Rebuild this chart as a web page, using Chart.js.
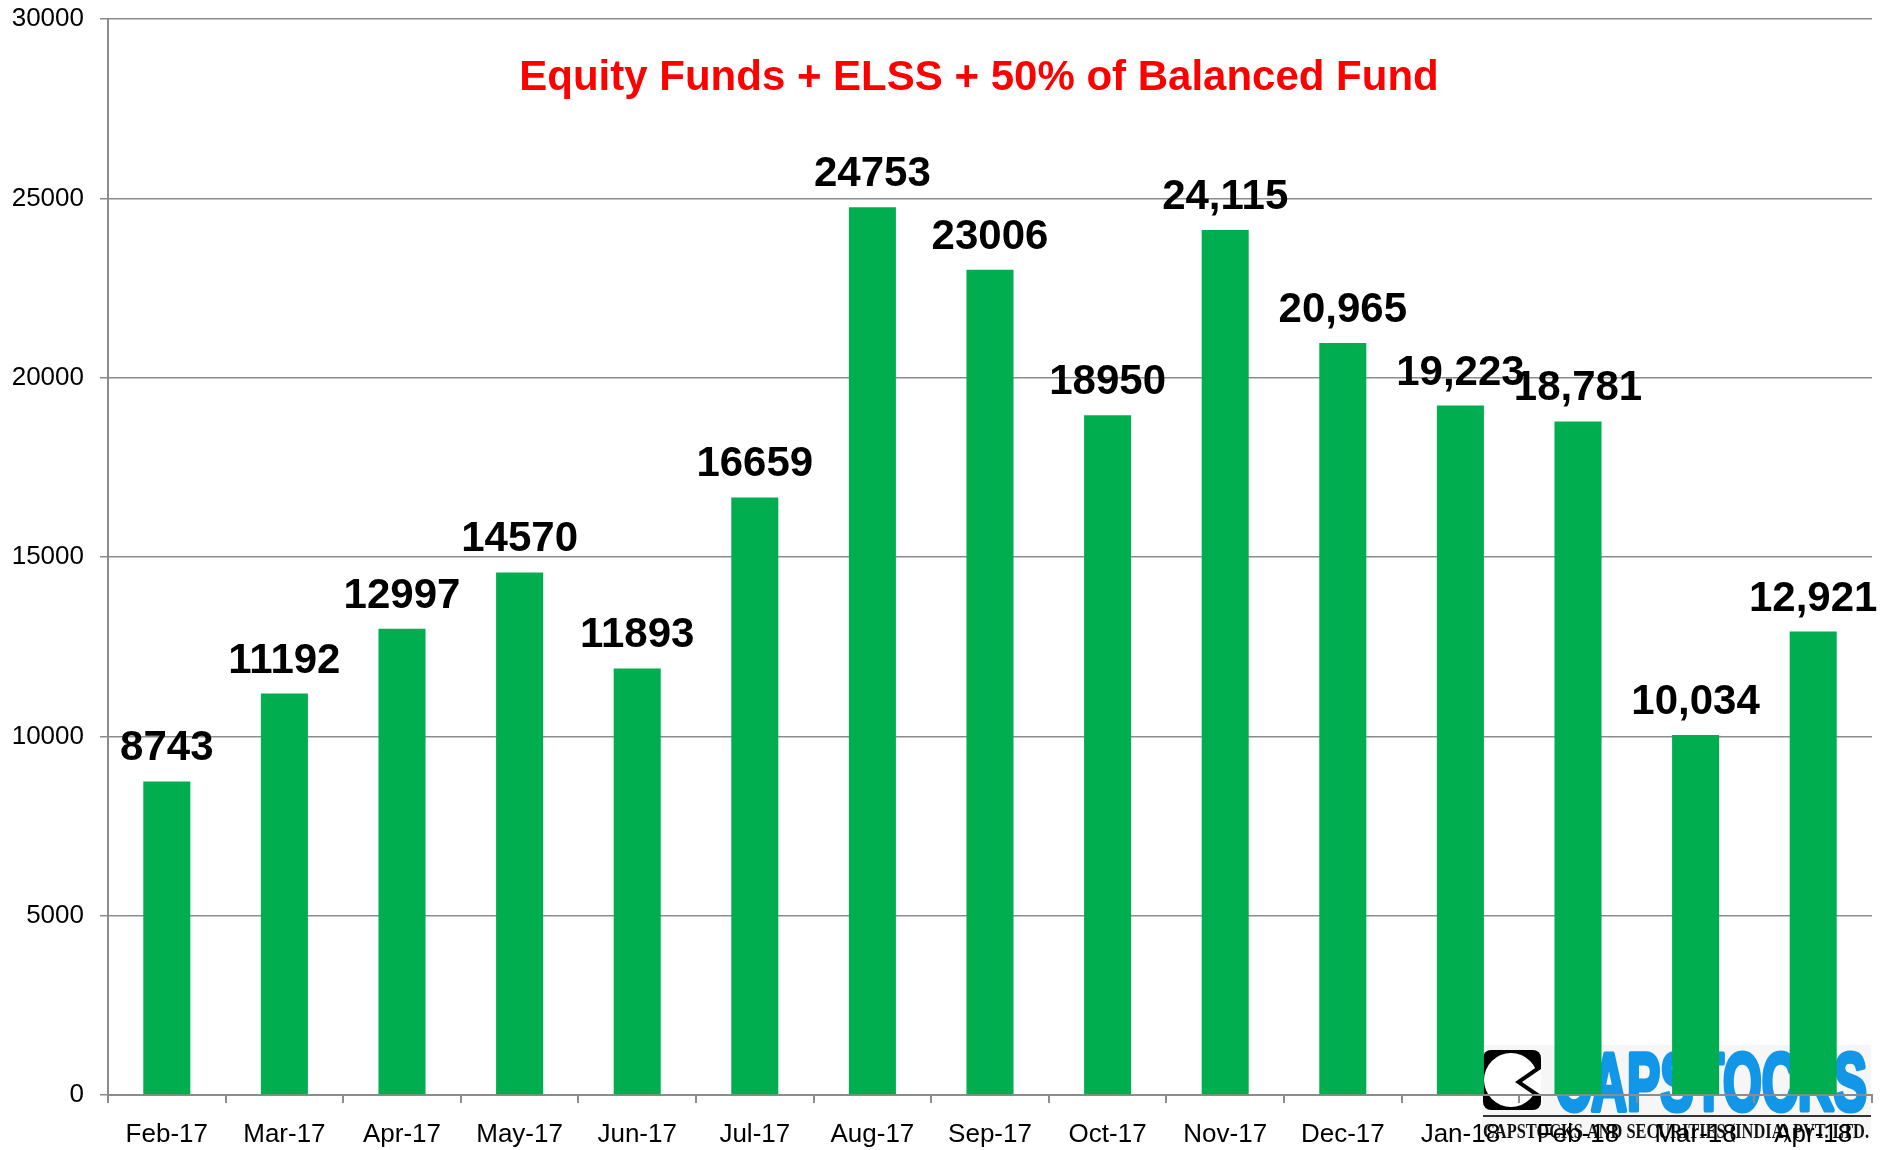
<!DOCTYPE html>
<html>
<head>
<meta charset="utf-8">
<script src="https://cdn.jsdelivr.net/npm/chart.js@4.4.1/dist/chart.umd.min.js"></script>
<style>
  body { margin: 0; background: #fff; }
  canvas { display: block; }
</style>
</head>
<body>
<canvas id="grafico" width="1892" height="1150"></canvas>
<script>
const meses = ['Feb-17', 'Mar-17', 'Apr-17', 'May-17', 'Jun-17', 'Jul-17', 'Aug-17', 'Sep-17',
  'Oct-17', 'Nov-17', 'Dec-17', 'Jan-18', 'Feb-18', 'Mar-18', 'Apr-18'];
const valores = [8743, 11192, 12997, 14570, 11893, 16659, 24753, 23006,
  18950, 24115, 20965, 19223, 18781, 10034, 12921];
// os rotulos vem do grafico original, alguns com virgula e outros sem
const rotulos = ['8743', '11192', '12997', '14570', '11893', '16659', '24753', '23006',
  '18950', '24,115', '20,965', '19,223', '18,781', '10,034', '12,921'];
const eixoY = { min: 0, max: 30000, passo: 5000 };
const titulo = 'Equity Funds + ELSS + 50% of Balanced Fund';

const fonte = '"Liberation Sans", Arial, Helvetica, sans-serif';
const cinza = '#8c8c8c';

const fundoELogo = {
  id: 'fundoELogo',
  beforeDraw(chart) {
    const ctx = chart.ctx;
    ctx.save();
    ctx.fillStyle = '#fff';
    ctx.fillRect(0, 0, chart.width, chart.height);

    // logo capstocks no canto inferior direito
    ctx.fillStyle = '#f6f6f6';
    ctx.fillRect(1482, 1045, 389, 94);

    ctx.fillStyle = '#000';
    ctx.beginPath();
    ctx.roundRect(1483, 1050, 58, 60, 8);
    ctx.fill();
    ctx.fillStyle = '#fff';
    ctx.beginPath();
    ctx.arc(1511, 1080, 27, 0, Math.PI * 2);
    ctx.fill();
    ctx.fillStyle = '#000';
    ctx.beginPath();
    ctx.moveTo(1541, 1064);
    ctx.lineTo(1515, 1082);
    ctx.lineTo(1541, 1100);
    ctx.closePath();
    ctx.fill();
    ctx.fillStyle = '#fff';
    ctx.beginPath();
    ctx.moveTo(1541, 1069);
    ctx.lineTo(1522, 1082);
    ctx.lineTo(1541, 1095);
    ctx.closePath();
    ctx.fill();

    ctx.fillStyle = '#1296e8';
    ctx.strokeStyle = '#1296e8';
    ctx.lineWidth = 5;
    ctx.lineJoin = 'round';
    ctx.font = 'bold 82px "Liberation Sans Narrow", ' + fonte;
    ctx.textBaseline = 'alphabetic';
    ctx.textAlign = 'left';
    ctx.strokeText('CAPSTOCKS', 1555, 1110, 312);
    ctx.fillText('CAPSTOCKS', 1555, 1110, 312);

    ctx.fillStyle = '#333';
    ctx.fillRect(1483, 1115, 388, 2);

    ctx.fillStyle = '#111';
    ctx.font = 'bold 21px "Liberation Serif", "DejaVu Serif", serif';
    ctx.fillText('CAPSTOCKS AND SECURITIES (INDIA) PVT. LTD.', 1483, 1138, 386);
    ctx.restore();
  }
};

const textos = {
  id: 'textos',
  afterDatasetsDraw(chart) {
    const ctx = chart.ctx;
    const area = chart.chartArea;
    ctx.save();
    ctx.textAlign = 'center';
    ctx.textBaseline = 'alphabetic';

    ctx.fillStyle = '#ff0000';
    ctx.font = 'bold 42px ' + fonte;
    ctx.fillText(titulo, (area.left + area.right) / 2 - 11, 90);

    ctx.fillStyle = '#000';
    ctx.font = 'bold 42px ' + fonte;
    chart.getDatasetMeta(0).data.forEach((barra, i) => {
      ctx.fillText(rotulos[i], barra.x, barra.y - 21);
    });
    ctx.restore();
  }
};

const canvas = document.getElementById('grafico');

const grafico = new Chart(canvas, {
  type: 'bar',
  data: {
    labels: meses,
    datasets: [{
      data: valores,
      backgroundColor: '#00ae50',
      borderWidth: 0,
      categoryPercentage: 1,
      barPercentage: 0.4
    }]
  },
  options: {
    responsive: false,
    animation: false,
    devicePixelRatio: 1,
    layout: { padding: { top: 19, right: 20, left: 0, bottom: 0 } },
    plugins: {
      legend: { display: false },
      tooltip: { enabled: false }
    },
    scales: {
      x: {
        grid: { drawOnChartArea: false, drawTicks: true, tickLength: 8, color: cinza, lineWidth: 2 },
        border: { color: cinza, width: 2 },
        ticks: { color: '#000', font: { family: fonte, size: 26 }, padding: 16, maxRotation: 0, autoSkip: false },
        afterFit: (escala) => { escala.height = 55; }
      },
      y: {
        min: eixoY.min,
        max: eixoY.max,
        grid: { color: cinza, lineWidth: 1.5, tickLength: 8 },
        border: { color: cinza, width: 2 },
        ticks: {
          stepSize: eixoY.passo,
          color: '#000',
          font: { family: fonte, size: 26 },
          padding: 16,
          callback: (valor) => String(valor)
        },
        afterFit: (escala) => {
          escala.width = 108;
          escala.paddingTop = 0;
          escala.paddingBottom = 0;
        }
      }
    }
  },
  plugins: [fundoELogo, textos]
});
</script>
</body>
</html>
